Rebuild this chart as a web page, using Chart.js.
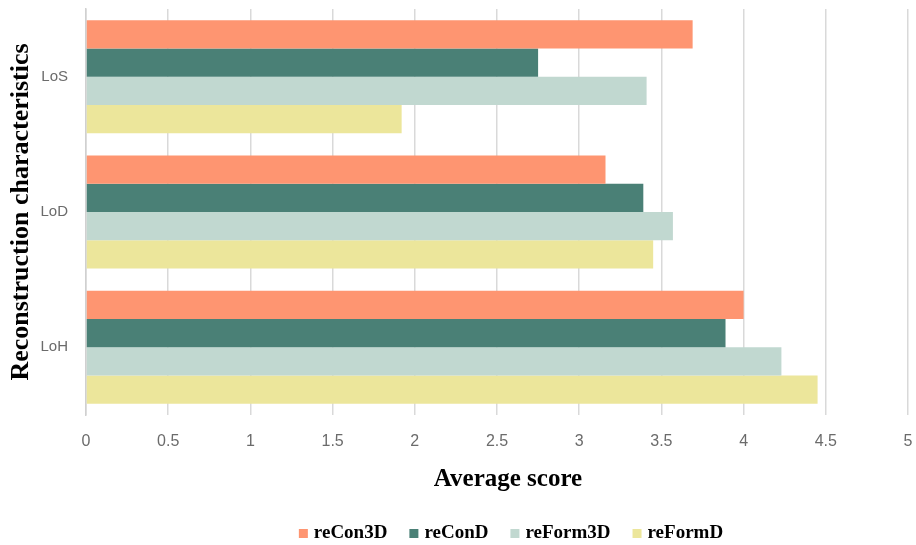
<!DOCTYPE html>
<html>
<head>
<meta charset="utf-8">
<script src="https://cdn.jsdelivr.net/npm/chart.js@4.4.0/dist/chart.umd.min.js"></script>
<style>
  html, body { margin: 0; padding: 0; background: #ffffff; }
  #wrap { width: 916px; height: 545px; position: relative; }
</style>
</head>
<body>
<div id="wrap"><canvas id="chart"></canvas></div>
<script>
// Reconstruction characteristics (top to bottom)
const categories = ['LoS', 'LoD', 'LoH'];

// Average score per method
const reCon3D  = [3.69, 3.16, 4.00];
const reConD   = [2.75, 3.39, 3.89];
const reForm3D = [3.41, 3.57, 4.23];
const reFormD  = [1.92, 3.45, 4.45];

// Score axis
const scoreMin = 0;
const scoreMax = 5;
const scoreStep = 0.5;
const scoreTitle = 'Average score';

const serif = "'Liberation Serif', 'Times New Roman', serif";
const sans = "'Liberation Sans', Arial, sans-serif";

// Score-axis title and legend row under the plot
const bottomTexts = {
  id: 'bottomTexts',
  afterDraw(chart) {
    const ctx = chart.ctx;
    ctx.save();
    ctx.textBaseline = 'alphabetic';

    // axis title
    ctx.font = `bold 25px ${serif}`;
    ctx.fillStyle = '#000000';
    ctx.textAlign = 'center';
    ctx.fillText(scoreTitle, 508, 486);

    // legend: square swatch + bold label per series
    const sets = chart.data.datasets;
    const box = 9, gapText = 6, gapItem = 22, baseline = 538, centerX = 511;
    ctx.font = `bold 19px ${serif}`;
    ctx.textAlign = 'left';
    const widths = sets.map(ds => ctx.measureText(ds.label).width);
    const total = widths.reduce((a, w) => a + w + box + gapText, 0) + gapItem * (sets.length - 1);
    let x = centerX - total / 2;
    sets.forEach((ds, i) => {
      ctx.fillStyle = ds.backgroundColor;
      ctx.fillRect(x, baseline - box, box, box);
      x += box + gapText;
      ctx.fillStyle = '#000000';
      ctx.fillText(ds.label, x, baseline);
      x += widths[i] + gapItem;
    });
    ctx.restore();
  }
};

new Chart(document.getElementById('chart'), {
  type: 'bar',
  data: {
    labels: categories,
    datasets: [
      { label: 'reCon3D',  data: reCon3D,  backgroundColor: '#FE9571' },
      { label: 'reConD',   data: reConD,   backgroundColor: '#4A8076' },
      { label: 'reForm3D', data: reForm3D, backgroundColor: '#C1D8D0' },
      { label: 'reFormD',  data: reFormD,  backgroundColor: '#ECE69B' }
    ]
  },
  plugins: [bottomTexts],
  options: {
    indexAxis: 'y',
    responsive: true,
    maintainAspectRatio: false,
    animation: false,
    layout: { autoPadding: false, padding: { top: 9, right: 8, left: 0, bottom: 0 } },
    datasets: {
      bar: { categoryPercentage: 0.835, barPercentage: 1.0, borderWidth: 0 }
    },
    scales: {
      x: {
        min: scoreMin,
        max: scoreMax,
        ticks: {
          stepSize: scoreStep,
          color: '#6b6b6b',
          font: { family: sans, size: 16 },
          padding: 17,
          callback: (v) => String(Number(v))
        },
        grid: { color: '#d9d9d9', lineWidth: 1.5, drawTicks: false },
        border: { display: false },
        title: { display: false },
        afterFit(scale) {
          scale.height = 130;
          scale.paddingLeft = 0;
          scale.paddingRight = 0;
        }
      },
      y: {
        ticks: {
          color: '#6b6b6b',
          font: { family: sans, size: 15 },
          padding: 18
        },
        grid: { display: false, drawTicks: false },
        border: { display: true, color: '#d0d0d0', width: 1.5 },
        title: {
          display: true,
          text: 'Reconstruction characteristics',
          color: '#000000',
          font: { family: serif, size: 26, weight: 'bold' },
          padding: { top: 6, bottom: 0 }
        },
        afterFit(scale) {
          scale.width = 86;
          scale.paddingTop = 0;
          scale.paddingBottom = 0;
        }
      }
    },
    plugins: {
      legend: { display: false },
      tooltip: { enabled: false }
    }
  }
});
</script>
</body>
</html>
